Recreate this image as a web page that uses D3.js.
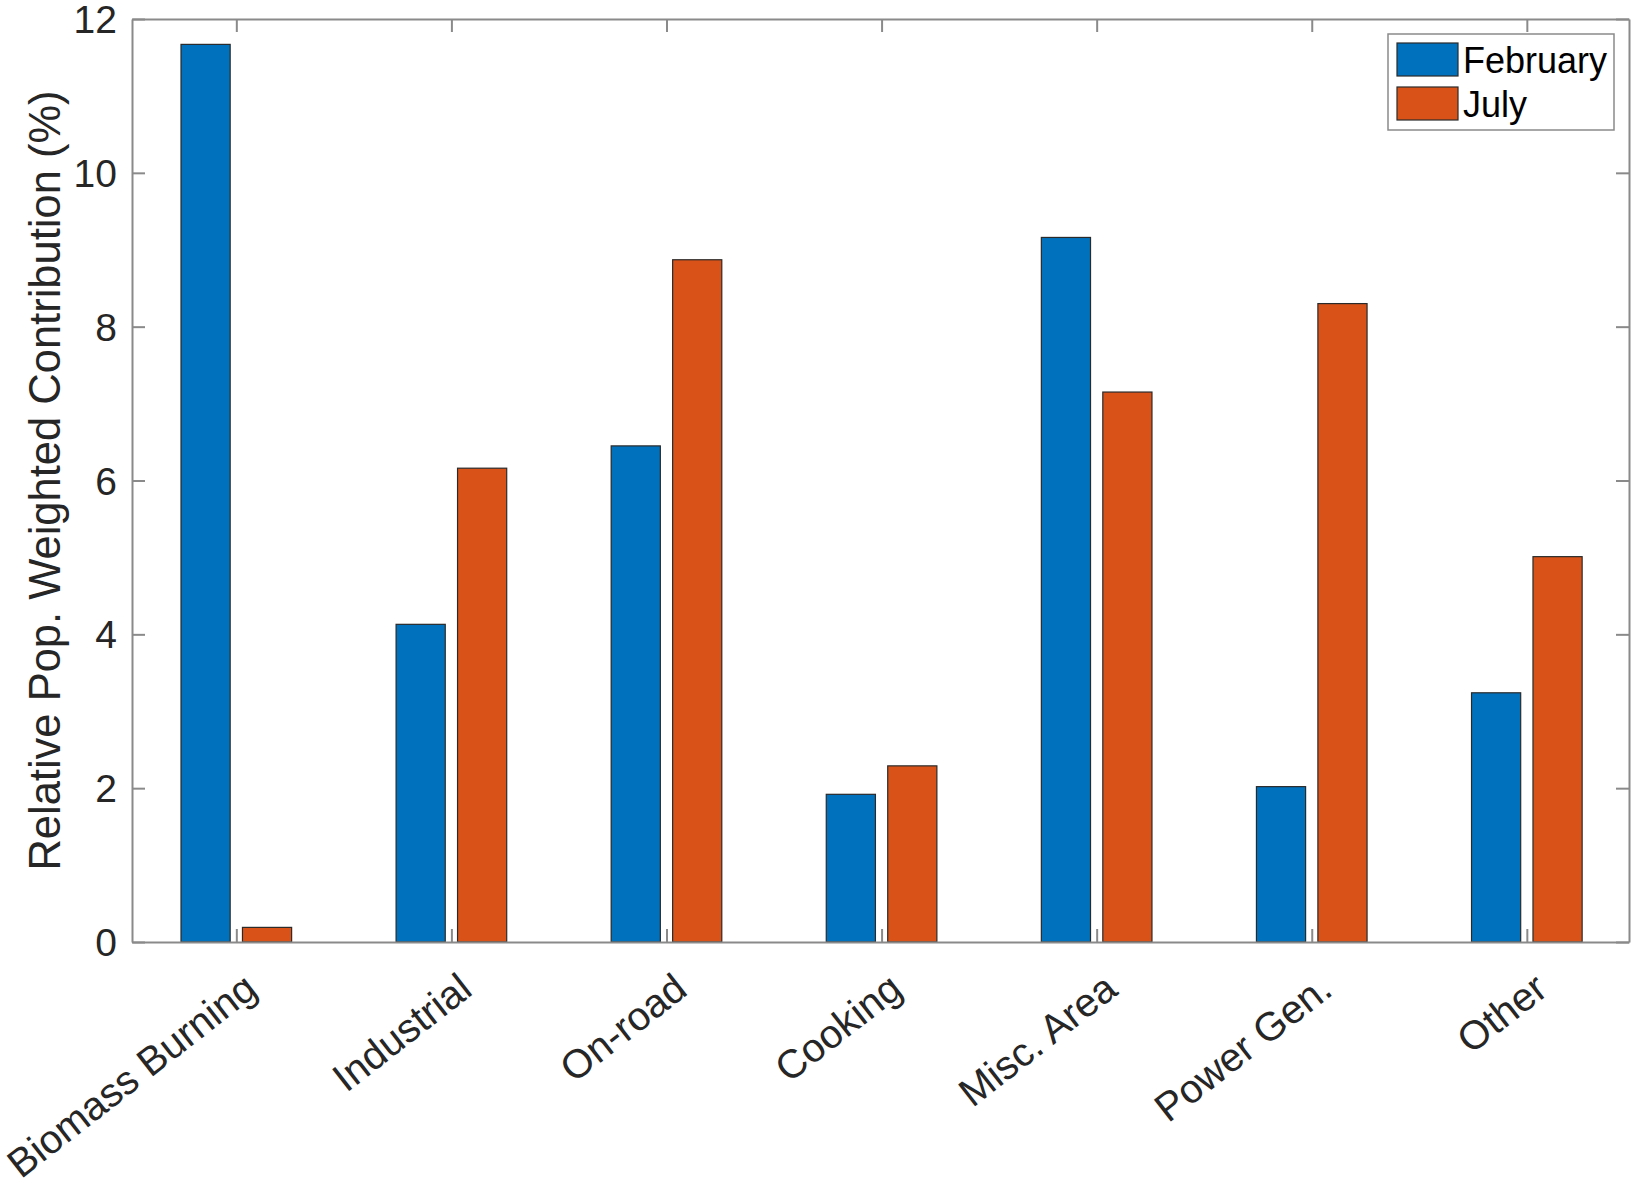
<!DOCTYPE html>
<html>
<head>
<meta charset="utf-8">
<script src="https://cdn.jsdelivr.net/npm/d3@7"></script>
<style>
	body { margin: 0; background: #fff; }
	text { font-family: "Liberation Sans", Arial, Helvetica, sans-serif; fill: #262626; }
</style>
</head>
<body>
<script>
// donnees
var categories = ["Biomass Burning", "Industrial", "On-road", "Cooking", "Misc. Area", "Power Gen.", "Other"];
var series = ["February", "July"];
var february = [11.67, 4.13, 6.45, 1.92, 9.16, 2.02, 3.24];
var july = [0.19, 6.16, 8.87, 2.29, 7.15, 8.30, 5.01];
var yTicks = [0, 2, 4, 6, 8, 10, 12];
var colors = ["#0072BD", "#D95319"];
var yLabel = "Relative Pop. Weighted Contribution (%)";

var w = 1634, h = 1188;
var mLeft = 132, mRight = 1629, mTop = 19, mBottom = 942;
var fontSize = 39;
var labelSize = 43.5;
var legendSize = 36;
var xFontSize = 40;
var tickLen = 13;
var axisColor = "#8a8a8a";

var svg = d3.select("body").append("svg")
	.attr("width", w)
	.attr("height", h);

var x = d3.scaleLinear().domain([0.515, categories.length + 0.475]).range([mLeft, mRight]);
var y = d3.scaleLinear().domain([0, 12]).range([mBottom, mTop]);

// largeur des barres groupees (comme matlab)
var groupW = Math.min(0.8, 2 / (2 + 1.5));
var barW = groupW / 2 * 0.8;
var offsets = [-groupW / 4, groupW / 4];

var data = [];
categories.forEach(function(c, i) {
	data.push({cat: i + 1, serie: 0, v: february[i]});
	data.push({cat: i + 1, serie: 1, v: july[i]});
});

svg.selectAll(".bar")
	.data(data)
	.enter()
	.append("rect")
	.attr("class", "bar")
	.attr("x", function(d) { return x(d.cat + offsets[d.serie] - barW / 2); })
	.attr("width", function(d) { return x(d.cat + barW / 2) - x(d.cat - barW / 2); })
	.attr("y", function(d) { return y(d.v); })
	.attr("height", function(d) { return y(0) - y(d.v); })
	.style("fill", function(d) { return colors[d.serie]; })
	.style("stroke", "#2a2a2a")
	.style("stroke-width", 1.2);

// axes (boite)
var box = svg.append("g");

box.append("g")
	.attr("transform", "translate(0," + mBottom + ")")
	.call(d3.axisBottom(x).tickValues(d3.range(1, categories.length + 1)).tickSizeInner(-tickLen).tickSizeOuter(0).tickFormat(""));
box.append("g")
	.attr("transform", "translate(0," + mTop + ")")
	.call(d3.axisTop(x).tickValues(d3.range(1, categories.length + 1)).tickSizeInner(-tickLen).tickSizeOuter(0).tickFormat(""));
box.append("g")
	.attr("transform", "translate(" + mLeft + ",0)")
	.call(d3.axisLeft(y).tickValues(yTicks).tickSizeInner(-tickLen).tickSizeOuter(0).tickFormat(""));
box.append("g")
	.attr("transform", "translate(" + mRight + ",0)")
	.call(d3.axisRight(y).tickValues(yTicks).tickSizeInner(-tickLen).tickSizeOuter(0).tickFormat(""));

box.selectAll("path, line")
	.style("stroke", axisColor)
	.style("stroke-width", 2);

// etiquettes Y
svg.selectAll(".ylab")
	.data(yTicks)
	.enter()
	.append("text")
	.attr("x", mLeft - 15)
	.attr("y", function(d) { return y(d); })
	.attr("dy", "0.36em")
	.attr("text-anchor", "end")
	.style("font-size", fontSize + "px")
	.text(function(d) { return d; });

svg.append("text")
	.attr("transform", "translate(44," + ((mTop + mBottom) / 2) + ") rotate(-90)")
	.attr("text-anchor", "middle")
	.attr("dy", "0.36em")
	.style("font-size", labelSize + "px")
	.text(yLabel);

// etiquettes X inclinees
svg.selectAll(".xlab")
	.data(categories)
	.enter()
	.append("text")
	.attr("transform", function(d, i) { return "translate(" + (x(i + 1) + 14) + "," + (mBottom + 40) + ") rotate(-38)"; })
	.attr("text-anchor", "end")
	.attr("dy", "0.36em")
	.style("font-size", xFontSize + "px")
	.text(function(d) { return d; });

// legende
var legende = svg.append("g");
legende.append("rect")
	.attr("x", 1388).attr("y", 34)
	.attr("width", 226).attr("height", 96)
	.style("fill", "#fff")
	.style("stroke", axisColor)
	.style("stroke-width", 1.5);

series.forEach(function(s, i) {
	legende.append("rect")
		.attr("x", 1397).attr("y", 43 + i * 44)
		.attr("width", 61).attr("height", 33)
		.style("fill", colors[i])
		.style("stroke", "#2a2a2a")
		.style("stroke-width", 1.2);
	legende.append("text")
		.attr("x", 1463).attr("y", 73 + i * 44)
		.style("font-size", legendSize + "px")
		.style("fill", "#000")
		.text(s);
});
</script>
</body>
</html>
